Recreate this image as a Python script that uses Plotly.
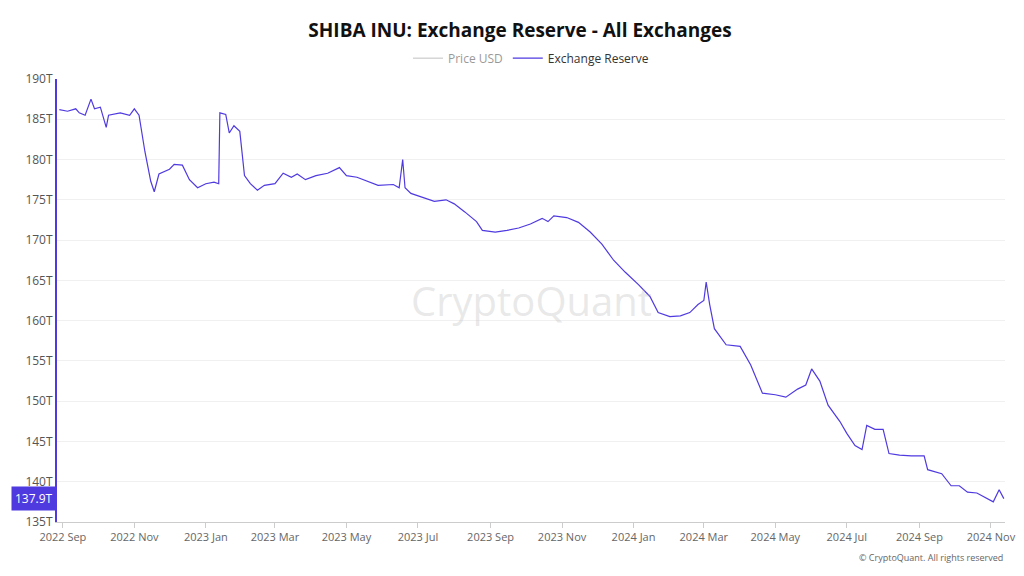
import plotly.graph_objects as go

dates = ["2022-08-29","2022-09-05","2022-09-12","2022-09-15","2022-09-20","2022-09-25","2022-09-28","2022-10-03","2022-10-08","2022-10-10","2022-10-20","2022-10-28","2022-11-01","2022-11-05","2022-11-10","2022-11-15","2022-11-18","2022-11-22","2022-12-01","2022-12-05","2022-12-12","2022-12-18","2022-12-25",
"2023-01-01","2023-01-08","2023-01-12","2023-01-13","2023-01-18","2023-01-21","2023-01-25","2023-01-30","2023-02-03","2023-02-08","2023-02-14","2023-02-20","2023-03-01","2023-03-08","2023-03-15","2023-03-20","2023-03-27","2023-04-05","2023-04-15","2023-04-25","2023-05-01","2023-05-10","2023-05-20","2023-05-28","2023-06-10","2023-06-15","2023-06-18","2023-06-20","2023-06-25","2023-07-05","2023-07-15","2023-07-25","2023-08-01","2023-08-10","2023-08-20","2023-08-25","2023-09-05","2023-09-15","2023-09-25","2023-10-05","2023-10-15","2023-10-20","2023-10-25","2023-11-05","2023-11-15","2023-11-25","2023-12-05","2023-12-15","2023-12-25",
"2024-01-05","2024-01-15","2024-01-22","2024-02-01","2024-02-10","2024-02-18","2024-02-25","2024-03-01","2024-03-03","2024-03-06","2024-03-10","2024-03-20","2024-04-01","2024-04-10","2024-04-20","2024-05-01","2024-05-10","2024-05-20","2024-05-27","2024-06-01","2024-06-08","2024-06-15","2024-06-25","2024-07-01","2024-07-08","2024-07-14","2024-07-18","2024-07-25","2024-08-01","2024-08-06","2024-08-15","2024-08-25","2024-09-05","2024-09-08","2024-09-20","2024-09-28","2024-10-05","2024-10-12","2024-10-20","2024-10-28","2024-11-03","2024-11-08","2024-11-12"]
reserve_t = [186.2,186.0,186.3,185.8,185.5,187.5,186.3,186.5,184.0,185.5,185.8,185.5,186.3,185.5,181.0,177.3,176.0,178.2,178.8,179.4,179.3,177.5,176.5,
177.0,177.2,177.0,185.8,185.6,183.3,184.2,183.5,178.0,177.0,176.2,176.8,177.0,178.3,177.8,178.2,177.5,178.0,178.3,179.0,178.0,177.8,177.2,176.8,176.9,176.5,180.0,176.5,175.8,175.3,174.8,175.0,174.5,173.5,172.3,171.2,171.0,171.2,171.5,172.0,172.7,172.3,173.0,172.8,172.2,171.0,169.5,167.5,166.0,
164.5,163.0,161.0,160.5,160.6,161.0,162.0,162.5,164.8,162.0,159.0,157.0,156.8,154.5,151.0,150.8,150.5,151.5,152.0,154.0,152.5,149.5,147.5,146.0,144.5,144.0,147.0,146.5,146.5,143.5,143.3,143.2,143.2,141.5,141.0,139.5,139.5,138.7,138.6,138.0,137.5,139.0,137.9]
reserve = [v * 1e12 for v in reserve_t]

tickvals = [v * 1e12 for v in range(135, 191, 5)]
ticktext = [f"{v}T" for v in range(135, 191, 5)]

fig = go.Figure()
fig.add_trace(go.Scatter(x=dates, y=reserve, name="Price USD", visible="legendonly",
                         line=dict(color="#999999", width=1.2)))
fig.add_trace(go.Scatter(x=dates, y=reserve, name="Exchange Reserve", mode="lines",
                         line=dict(color="#4f3ae0", width=1.2)))

fig.update_layout(
    width=1024, height=576, plot_bgcolor="white", paper_bgcolor="white",
    font=dict(family="Open Sans", size=11, color="#555"),
    title=dict(text="<b>SHIBA INU: Exchange Reserve - All Exchanges</b>", x=0.5, y=1 - 22/576,
               yanchor="middle", yref="container", font=dict(size=19, color="#111")),
    legend=dict(orientation="h", x=0.5, xanchor="center", y=1.047, yanchor="middle",
                font=dict(size=12, color="#333")),
    margin=dict(l=49, r=27, t=71, b=62, autoexpand=False),
    showlegend=True,
    xaxis=dict(range=["2022-08-27", "2024-11-13"], showgrid=False, ticks="outside",
               tickcolor="#ccc", ticklen=5, showline=True, linecolor="#ccc",
               dtick="M2", tick0="2022-09-01", tickformat="%Y %b",
               tickfont=dict(size=11, color="#666")),
    yaxis=dict(range=[135e12, 190e12], tickvals=tickvals, ticktext=ticktext,
               showgrid=True, gridcolor="#f0f0f0", showline=True, linecolor="#4f3ae0",
               linewidth=2, zeroline=False, tickfont=dict(size=12, color="#555")),
    annotations=[
        dict(text="CryptoQuant", x=0.5, y=0.5, xref="paper", yref="paper", showarrow=False,
             font=dict(size=40, color="rgba(180,180,180,0.3)")),
        dict(text="© CryptoQuant. All rights reserved", x=1, y=-0.081, xref="paper", yref="paper",
             xanchor="right", yanchor="middle", showarrow=False, font=dict(size=9, color="#666")),
        dict(text="137.9T", x=0, xref="paper", y=137.9e12, yref="y", xanchor="right",
             showarrow=False, bgcolor="#4f3ae0", font=dict(size=12, color="white"), borderpad=3),
    ],
)
fig.write_html("out.html")
